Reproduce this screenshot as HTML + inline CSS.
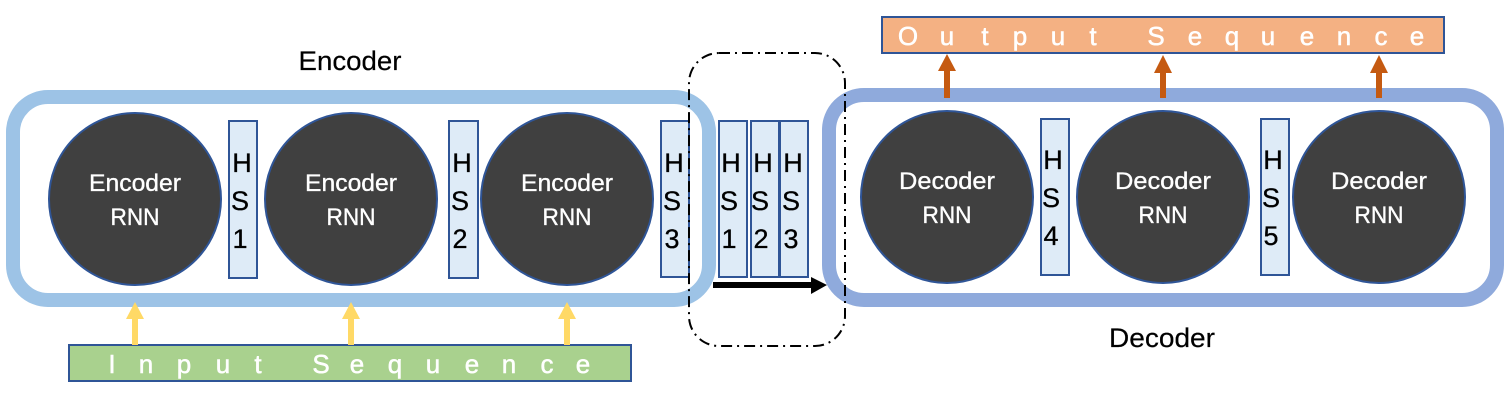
<!DOCTYPE html>
<html><head><meta charset="utf-8"><title>Encoder Decoder</title>
<style>
html,body{margin:0;padding:0;background:#fff;width:1512px;height:402px;overflow:hidden}
svg{display:block}
text{font-family:"Liberation Sans",sans-serif}
.hs{fill:#000;stroke:#000;stroke-width:.3;font-size:27px;text-anchor:middle}
.n{fill:#fff;stroke:#fff;stroke-width:.35;font-size:24px;text-anchor:middle}
.l{fill:#000;stroke:#000;stroke-width:.2;font-size:27px;text-anchor:middle}
.q{fill:#fff;stroke:#fff;stroke-width:.5;font-size:26px;text-anchor:middle}
.b{fill:#DEEBF7;stroke:#2F5597;stroke-width:2}
.c{fill:#404040;stroke:#2F5597;stroke-width:2}
</style></head><body>
<svg width="1512" height="402" viewBox="0 0 1512 402" xmlns="http://www.w3.org/2000/svg">
<rect width="1512" height="402" fill="#fff"/>
<rect x="13" y="97" width="696" height="203" rx="35" fill="#fff" stroke="#9DC3E6" stroke-width="14"/>
<rect x="829" y="95" width="668" height="205" rx="35" fill="#fff" stroke="#8FAADC" stroke-width="14"/>

<circle class="c" cx="135" cy="199" r="86"/>
<circle class="c" cx="351" cy="199" r="86"/>
<circle class="c" cx="567" cy="199" r="86"/>
<circle class="c" cx="947" cy="197" r="86"/>
<circle class="c" cx="1163" cy="197" r="86"/>
<circle class="c" cx="1379" cy="197" r="86"/>

<text class="n" x="135" y="191" textLength="92" lengthAdjust="spacingAndGlyphs">Encoder</text><text class="n" x="135" y="225" textLength="49" lengthAdjust="spacingAndGlyphs">RNN</text>
<text class="n" x="351" y="191" textLength="92" lengthAdjust="spacingAndGlyphs">Encoder</text><text class="n" x="351" y="225" textLength="49" lengthAdjust="spacingAndGlyphs">RNN</text>
<text class="n" x="567" y="191" textLength="92" lengthAdjust="spacingAndGlyphs">Encoder</text><text class="n" x="567" y="225" textLength="49" lengthAdjust="spacingAndGlyphs">RNN</text>
<text class="n" x="947" y="189" textLength="96" lengthAdjust="spacingAndGlyphs">Decoder</text><text class="n" x="947" y="223" textLength="49" lengthAdjust="spacingAndGlyphs">RNN</text>
<text class="n" x="1163" y="189" textLength="96" lengthAdjust="spacingAndGlyphs">Decoder</text><text class="n" x="1163" y="223" textLength="49" lengthAdjust="spacingAndGlyphs">RNN</text>
<text class="n" x="1379" y="189" textLength="96" lengthAdjust="spacingAndGlyphs">Decoder</text><text class="n" x="1379" y="223" textLength="49" lengthAdjust="spacingAndGlyphs">RNN</text>

<rect class="b" x="229" y="121" width="28" height="157"/>
<rect class="b" x="449" y="121" width="29" height="157"/>
<rect class="b" x="661" y="121" width="28" height="156"/>
<rect class="b" x="719" y="121" width="28" height="156"/>
<rect class="b" x="751" y="121" width="28" height="156"/>
<rect class="b" x="780" y="121" width="28" height="156"/>
<rect class="b" x="1041" y="119" width="28" height="156"/>
<rect class="b" x="1261" y="119" width="28" height="156"/>

<text class="hs" x="242" y="172">H</text><text class="hs" x="240" y="210">S</text><text class="hs" x="240" y="248">1</text>
<text class="hs" x="462" y="172">H</text><text class="hs" x="460" y="210">S</text><text class="hs" x="460" y="248">2</text>
<text class="hs" x="674" y="172">H</text><text class="hs" x="672" y="210">S</text><text class="hs" x="672" y="248">3</text>
<text class="hs" x="731" y="172">H</text><text class="hs" x="729" y="210">S</text><text class="hs" x="729" y="248">1</text>
<text class="hs" x="763" y="172">H</text><text class="hs" x="760" y="210">S</text><text class="hs" x="761" y="248">2</text>
<text class="hs" x="793" y="172">H</text><text class="hs" x="791" y="210">S</text><text class="hs" x="791" y="248">3</text>
<text class="hs" x="1053" y="169">H</text><text class="hs" x="1051" y="207">S</text><text class="hs" x="1051" y="245">4</text>
<text class="hs" x="1273" y="169">H</text><text class="hs" x="1271" y="207">S</text><text class="hs" x="1271" y="245">5</text>

<rect x="69" y="345" width="562" height="36" fill="#A9D18E" stroke="#2F5597" stroke-width="2"/>
<rect x="882" y="17" width="562" height="36" fill="#F4B183" stroke="#2F5597" stroke-width="2"/>
<text class="q" x="112 146 184 223 258 321 357 395 433 472 509 547 583" y="373">InputSequence</text>
<text class="q" x="908 947 985 1020 1058 1093 1156 1195 1232 1268 1307 1344 1381 1417" y="45">OutputSequence</text>

<g fill="#FFD966">
<path d="M132 345V319H126L135 302L144 319H138V345Z"/>
<path d="M348 345V319H342L351 302L360 319H354V345Z"/>
<path d="M564 345V319H558L567 302L576 319H570V345Z"/>
</g>
<g fill="#C55A11">
<path d="M944 98V71H938L947 54L956 71H950V98Z"/>
<path d="M1160 98V73H1154L1163 55L1172 73H1166V98Z"/>
<path d="M1376 98V73H1370L1379 55L1388 73H1382V98Z"/>
</g>
<path d="M713 282H811V277L827 285L811 294V288H713Z" fill="#000"/>

<rect x="689" y="53" width="156" height="293" rx="30" fill="none" stroke="#000" stroke-width="2" stroke-dasharray="11 5 2 5"/>

<text class="l" x="350" y="70" textLength="103" lengthAdjust="spacingAndGlyphs">Encoder</text>
<text class="l" x="1162" y="347" textLength="106" lengthAdjust="spacingAndGlyphs">Decoder</text>
</svg>
</body></html>
